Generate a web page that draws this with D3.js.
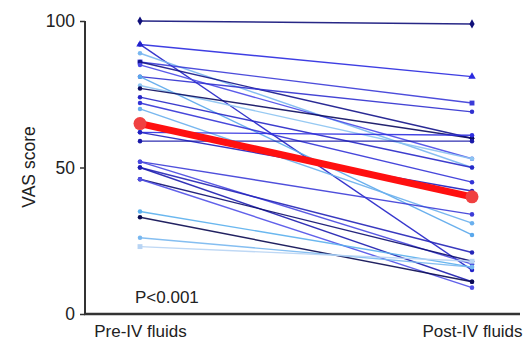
<!DOCTYPE html>
<html><head><meta charset="utf-8">
<script src="https://cdn.jsdelivr.net/npm/d3@7"></script>
<style>body{margin:0;background:#fff}svg{display:block}text{font-family:"Liberation Sans",Arial,sans-serif}</style>
</head><body><svg id="c" width="528" height="344"></svg>
<script>
const categories = ["Pre-IV fluids", "Post-IV fluids"];
const preValues  = [100, 92, 92, 89, 86, 86, 85, 81, 81, 78, 77, 74, 72, 70, 62, 62, 59, 52, 52, 50, 50, 46, 46, 35, 33, 26, 23];
const postValues = [99, 81, 15, 50, 72, 60, 53, 69, 27, 53, 60, 50, 45, 31, 61, 42, 59, 34, 17, 21, 11, 18, 9, 16, 11, 16, 18];
const meanValues = [65, 40];
const yTicks = [0, 50, 100];
const pText = "P<0.001";
const yTitle = "VAS score";

const palette = ["#10107a","#2a2ae0","#2222c8","#7ab8f0","#3a3ad8","#14148a","#4a4ae8","#3030d0","#5aa8ec","#8cc4f2","#0c0c60","#2828c8","#3434d8","#6ab0ee","#2e2ee0","#2020c0","#1a1aa8","#3c3cd8","#4848e0","#2424b8","#1c1cb0","#0e0e70","#5050e8","#5ab0ee","#0a0a50","#78b8f0","#b8d4f4"];
const shapes = ["d","t","c","c","s","c","c","c","c","c","c","c","c","c","c","c","c","c","c","c","c","c","c","c","c","c","s"];

const svg = d3.select("#c");
const x = d3.scalePoint().domain(categories).range([140, 472]);
const y = d3.scaleLinear().domain([0, 100]).range([314, 21]);

const g = svg.append("g");
preValues.forEach((p, i) => {
  const q = postValues[i];
  const col = palette[i % palette.length];
  g.append("line").attr("x1", x(categories[0])).attr("y1", y(p))
    .attr("x2", x(categories[1])).attr("y2", y(q))
    .attr("stroke", col).attr("stroke-width", 1.4).attr("opacity", 0.9);
  [[categories[0], p], [categories[1], q]].forEach(([c, v]) => {
    const sym = shapes[i] === "t" ? d3.symbolTriangle : shapes[i] === "s" ? d3.symbolSquare : shapes[i] === "d" ? d3.symbolDiamond : d3.symbolCircle;
    g.append("path").attr("d", d3.symbol().type(sym).size(shapes[i] === "c" ? 16 : 24)())
      .attr("transform", `translate(${x(c)},${y(v)})`).attr("fill", col);
  });
});

svg.append("line").attr("x1", x(categories[0])).attr("y1", y(meanValues[0]))
  .attr("x2", x(categories[1])).attr("y2", y(meanValues[1]))
  .attr("stroke", "#ff1010").attr("stroke-width", 7);
meanValues.forEach((v, i) => {
  svg.append("circle").attr("cx", x(categories[i])).attr("cy", y(v)).attr("r", 6.5).attr("fill", "#f04040");
});

const yAxis = d3.axisLeft(y).tickValues(yTicks).tickSize(5).tickPadding(5);
const ya = svg.append("g").attr("transform", "translate(85,0)").call(yAxis);
ya.select(".domain").attr("stroke", "#333").attr("stroke-width", 2).attr("d", "M0,21V314");
ya.selectAll(".tick line").attr("stroke", "#333").attr("stroke-width", 1.5);
ya.selectAll(".tick text").attr("font-size", 17.5).attr("fill", "#222").attr("font-family", "Liberation Sans, Arial, sans-serif");

const xAxis = d3.axisBottom(x).tickSize(0).tickPadding(11);
const xa = svg.append("g").attr("transform", "translate(0,314)").call(xAxis);
xa.select(".domain").attr("stroke", "#333").attr("stroke-width", 2.5).attr("d", "M84,0H520");
xa.selectAll(".tick text").attr("font-size", 17).attr("fill", "#222").attr("font-family", "Liberation Sans, Arial, sans-serif");

svg.append("text").attr("transform", "translate(35,167) rotate(-90)")
  .attr("text-anchor", "middle").attr("font-size", 17.5).attr("fill", "#222").text(yTitle);
svg.append("text").attr("x", 135).attr("y", 303).attr("font-size", 17).attr("fill", "#222").text(pText);
</script></body></html>
